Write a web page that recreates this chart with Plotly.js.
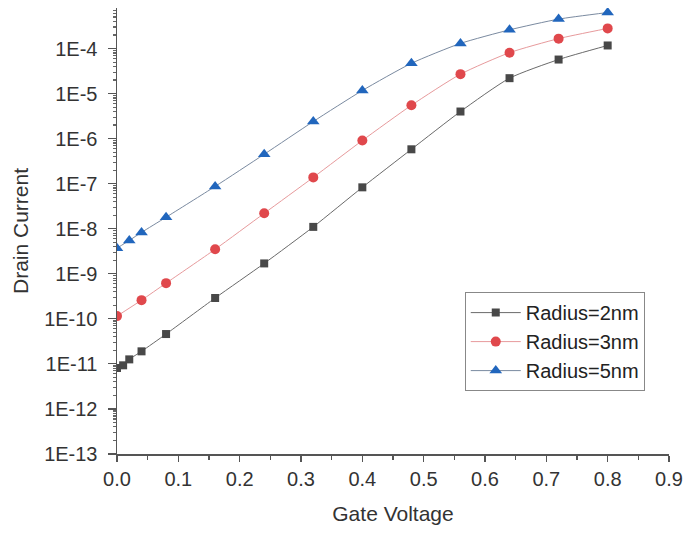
<!DOCTYPE html>
<html>
<head>
<meta charset="utf-8">
<script src="https://cdn.plot.ly/plotly-3.0.1.min.js"></script>
<style>html,body{margin:0;padding:0;background:#fff;}#chart{width:692px;height:535px;}</style>
</head>
<body>
<div id="chart"></div>
<script>
// Data
const x2nm = [0, 0.01, 0.02, 0.04, 0.08, 0.16, 0.24, 0.32, 0.40, 0.48, 0.56, 0.64, 0.72, 0.80];
const y2nm = [8.1e-12, 9.3e-12, 1.26e-11, 1.9e-11, 4.6e-11, 2.9e-10, 1.7e-9, 1.1e-8, 8.3e-8, 5.8e-7, 4.0e-6, 2.2e-5, 5.7e-5, 1.17e-4];
const x3nm = [0, 0.04, 0.08, 0.16, 0.24, 0.32, 0.40, 0.48, 0.56, 0.64, 0.72, 0.80];
const y3nm = [1.15e-10, 2.6e-10, 6.2e-10, 3.5e-9, 2.2e-8, 1.38e-7, 9.1e-7, 5.5e-6, 2.7e-5, 8.1e-5, 1.66e-4, 2.8e-4];
const x5nm = [0, 0.02, 0.04, 0.08, 0.16, 0.24, 0.32, 0.40, 0.48, 0.56, 0.64, 0.72, 0.80];
const y5nm = [3.7e-9, 5.5e-9, 8.3e-9, 1.8e-8, 8.7e-8, 4.5e-7, 2.4e-6, 1.17e-5, 4.7e-5, 1.3e-4, 2.6e-4, 4.5e-4, 6.3e-4];
const seriesNames = ["Radius=2nm", "Radius=3nm", "Radius=5nm"];
const yTickVals = [1e-13, 1e-12, 1e-11, 1e-10, 1e-9, 1e-8, 1e-7, 1e-6, 1e-5, 1e-4];
const yTickText = ["1E-13", "1E-12", "1E-11", "1E-10", "1E-9", "1E-8", "1E-7", "1E-6", "1E-5", "1E-4"];
const xTickVals = [0, 0.1, 0.2, 0.3, 0.4, 0.5, 0.6, 0.7, 0.8, 0.9];
const xTickText = ["0.0", "0.1", "0.2", "0.3", "0.4", "0.5", "0.6", "0.7", "0.8", "0.9"];

const traces = [
  {x: x2nm, y: y2nm, name: seriesNames[0], mode: 'lines+markers',
   line: {color: '#6a6a6a', width: 1, shape: 'spline', smoothing: 0.6},
   marker: {symbol: 'square', size: 8, color: '#484848'}},
  {x: x3nm, y: y3nm, name: seriesNames[1], mode: 'lines+markers',
   line: {color: '#e79a9c', width: 1, shape: 'spline', smoothing: 0.6},
   marker: {symbol: 'circle', size: 10, color: '#e0484c'}},
  {x: x5nm, y: y5nm, name: seriesNames[2], mode: 'lines+markers',
   line: {color: '#7a8aa0', width: 1, shape: 'spline', smoothing: 0.6},
   marker: {symbol: 'triangle-up', size: 11, color: '#2166bd'}}
];

const FAM = 'Liberation Sans, Arial, sans-serif';
const tickFont = {family: FAM, size: 20, color: '#333'};

const layout = {
  width: 692, height: 535,
  margin: {l: 117, r: 23, t: 8, b: 81},
  paper_bgcolor: '#fff', plot_bgcolor: '#fff',
  font: tickFont,
  showlegend: true,
  legend: {x: 0.63, y: 0.363, xanchor: 'left', yanchor: 'top',
    bordercolor: '#888', borderwidth: 1, bgcolor: '#fff',
    font: {family: FAM, size: 20, color: '#222'},
    tracegroupgap: 0, itemwidth: 50},
  xaxis: {
    range: [0, 0.9], tickvals: xTickVals, ticktext: xTickText,
    showgrid: false, zeroline: false, showline: true, linecolor: '#555', linewidth: 1.5,
    ticks: 'outside', ticklen: 6, tickcolor: '#555', tickwidth: 1.2,
    minor: {dtick: 0.05, tick0: 0, ticks: 'outside', ticklen: 4, tickcolor: '#555', showgrid: false},
    tickfont: tickFont, ticklabelstandoff: 0,
    title: {text: 'Gate Voltage', font: {family: FAM, size: 21, color: '#333'}, standoff: 18}
  },
  yaxis: {
    type: 'log', range: [-13, -3.1], tickvals: yTickVals, ticktext: yTickText,
    showgrid: false, zeroline: false, showline: true, linecolor: '#555', linewidth: 1.5,
    ticks: 'outside', ticklen: 8, tickcolor: '#555', tickwidth: 1.2,
    minor: {dtick: 'D1', ticks: 'outside', ticklen: 3, tickcolor: '#666', showgrid: false},
    tickfont: tickFont, ticklabelstandoff: 6,
    title: {text: 'Drain Current', font: {family: FAM, size: 21, color: '#333'}, standoff: 10}
  }
};

Plotly.newPlot('chart', traces, layout, {displayModeBar: false, staticPlot: true});
</script>
</body>
</html>
